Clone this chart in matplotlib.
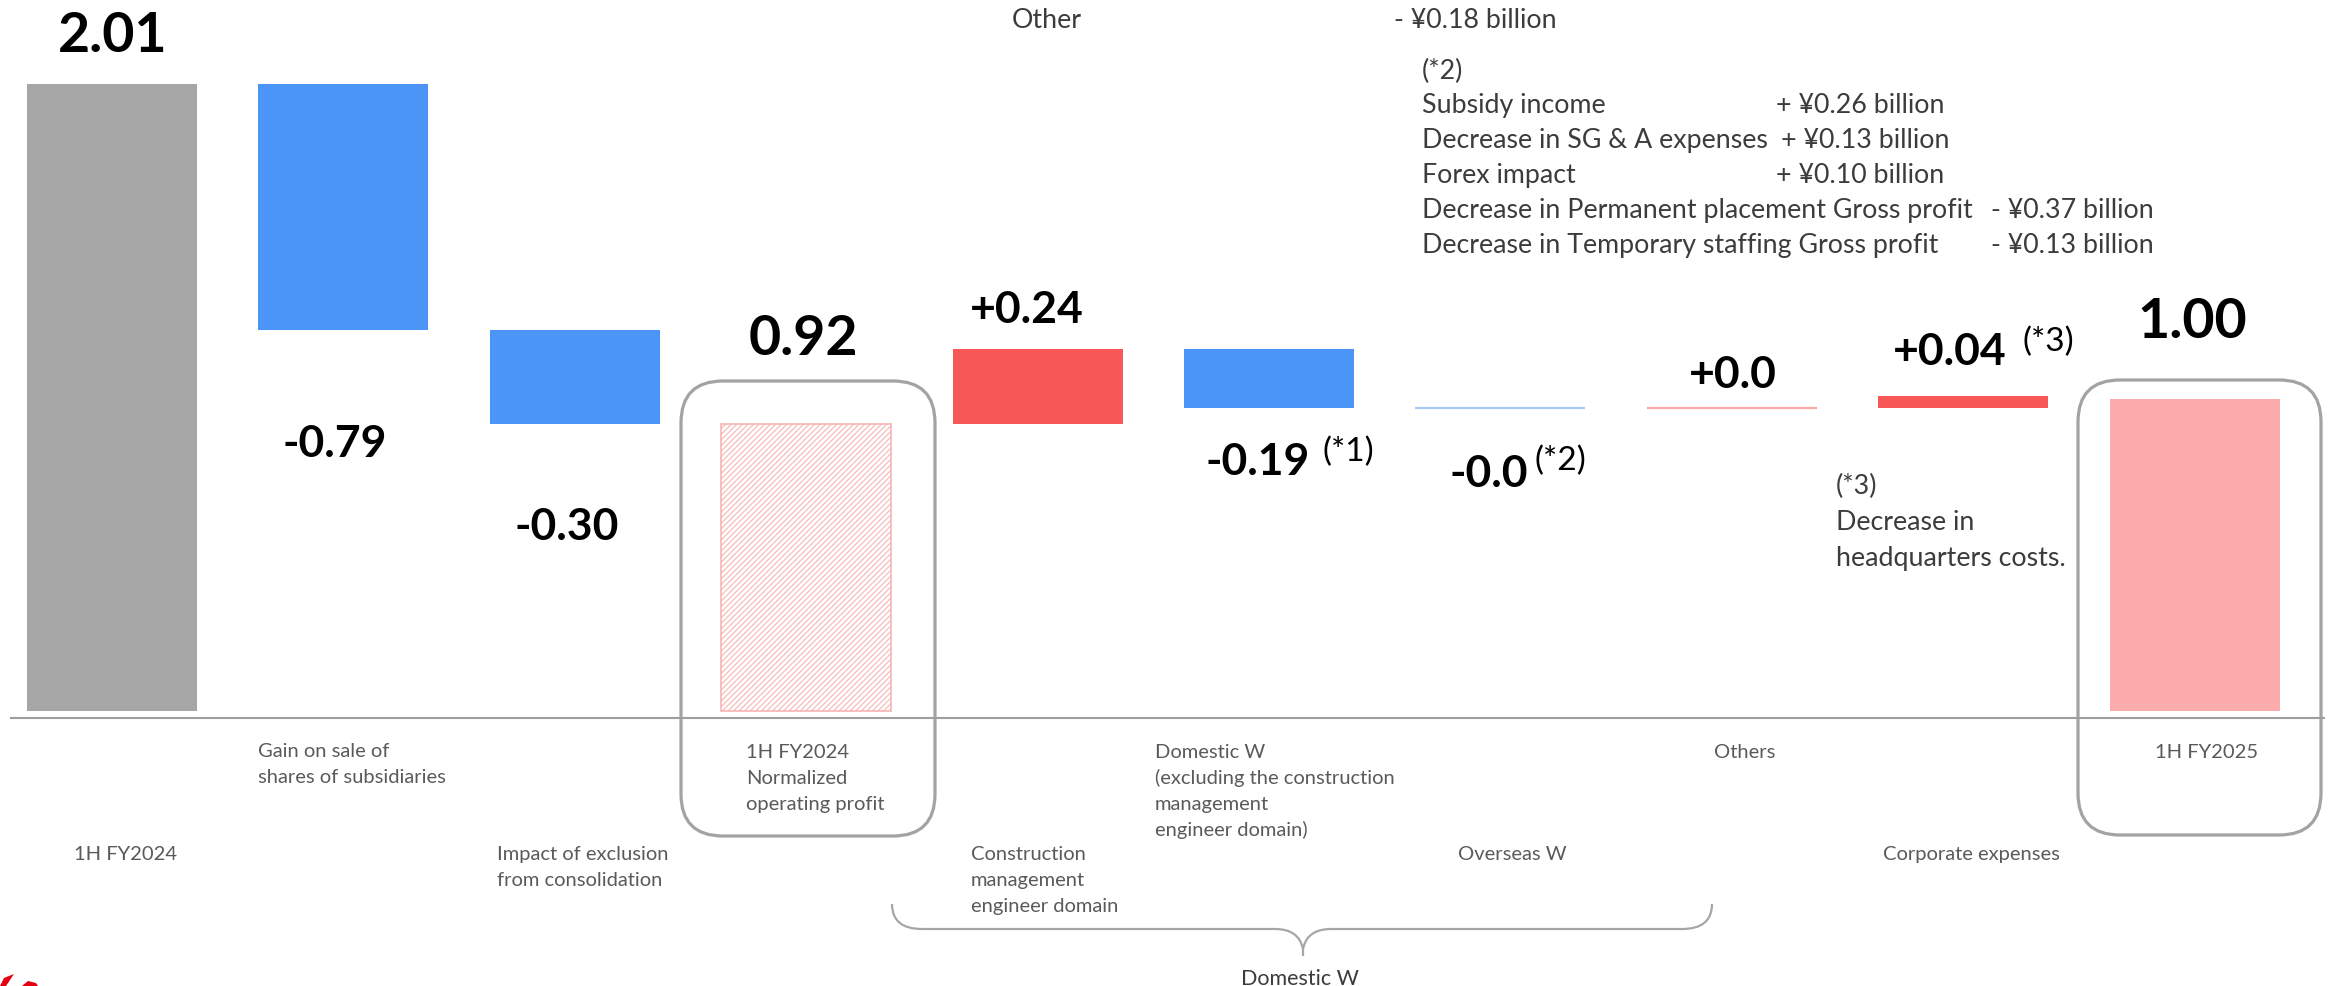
import matplotlib
matplotlib.use("Agg")
import matplotlib.pyplot as plt
from matplotlib.patches import FancyBboxPatch, PathPatch, Polygon
from matplotlib.path import Path

plt.rcParams["font.family"] = ["Lato", "DejaVu Sans"]
plt.rcParams["hatch.linewidth"] = 0.8

# ---------------------------------------------------------------- data
categories = [
    "1H FY2024",
    "Gain on sale of\nshares of subsidiaries",
    "Impact of exclusion\nfrom consolidation",
    "1H FY2024\nNormalized\noperating profit",
    "Construction\nmanagement\nengineer domain",
    "Domestic W\n(excluding the construction\nmanagement\nengineer domain)",
    "Overseas W",
    "Others",
    "Corporate expenses",
    "1H FY2025",
]
values = [2.01, -0.79, -0.30, 0.92, 0.24, -0.19, -0.0, 0.0, 0.04, 1.00]
value_labels = ["2.01", "-0.79", "-0.30", "0.92", "+0.24", "-0.19",
                "-0.0", "+0.0", "+0.04", "1.00"]
is_total = [True, False, False, True, False, False, False, False, False, True]
footnote_marks = ["", "", "", "", "", "(*1)", "(*2)", "", "(*3)", ""]

other_item = ("Other", "- ¥0.18 billion")
overseas_title = "(*2)"
overseas_items = [
    ("Subsidy income", "+ ¥0.26 billion"),
    ("Decrease in SG & A expenses", "+ ¥0.13 billion"),
    ("Forex impact", "+ ¥0.10 billion"),
    ("Decrease in Permanent placement Gross profit", "- ¥0.37 billion"),
    ("Decrease in Temporary staffing Gross profit", "- ¥0.13 billion"),
]
corporate_note = ["(*3)", "Decrease in", "headquarters costs."]
group_label = "Domestic W"

# ---------------------------------------------------------------- layout
W, H, DPI = 2333, 987, 100
X0_PX, STEP_PX = 112, 231.4       # first category centre, category pitch
ZERO_PX, UNIT_PX = 712, 312.0     # pixel row of value 0, pixels per 1.0
BAR_W = 0.735

GRAY, BLUE, RED = "#A6A6A6", "#4A95F6", "#F75757"
BLUE_LIGHT, RED_LIGHT, PINK = "#A8CAF7", "#F8A9A9", "#FDACAE"
HATCH_PINK = "#F7B4B4"
LABEL_GRAY, NOTE_GRAY = "#5A5A5A", "#3C3C3C"

# running totals of the waterfall
bottoms, heights = [], []
running = 0.0
for v, tot in zip(values, is_total):
    if tot:
        bottoms.append(0.0)
        running = v
    else:
        bottoms.append(running)
        running += v
    heights.append(v)

fig = plt.figure(figsize=(W / DPI, H / DPI), dpi=DPI)
fig.patch.set_facecolor("white")

ax = fig.add_axes([0, 0, 1, 1])
ax.set_xlim(-X0_PX / STEP_PX, (W - X0_PX) / STEP_PX)
ax.set_ylim(-(H - ZERO_PX) / UNIT_PX, ZERO_PX / UNIT_PX)
ax.axis("off")

x = list(range(len(values)))
for i in x:
    v, b = heights[i], bottoms[i]
    if i == 0:
        ax.bar(i, v, bottom=b, width=BAR_W, color=GRAY, linewidth=0)
    elif i == 3:
        ax.bar(i, v, bottom=b, width=BAR_W, facecolor="white",
               edgecolor=HATCH_PINK, hatch="//////", linewidth=1.2)
    elif i == len(values) - 1:
        ax.bar(i, v, bottom=b, width=BAR_W, color=PINK, linewidth=0)
    elif v == 0:
        c = BLUE_LIGHT if value_labels[i].startswith("-") else RED_LIGHT
        ax.bar(i, v, bottom=b, width=BAR_W, facecolor=c, edgecolor=c,
               linewidth=1.6)
    else:
        ax.bar(i, v, bottom=b, width=BAR_W, color=RED if v > 0 else BLUE,
               linewidth=0)

# overlay in pixel coordinates for annotations and decorations
ov = fig.add_axes([0, 0, 1, 1], zorder=5)
ov.set_xlim(0, W)
ov.set_ylim(H, 0)
ov.axis("off")

# baseline
ov.plot([10, 2325], [719, 719], color="#9E9E9E", lw=1.5, solid_capstyle="butt")

# rounded frames around the two profit columns
for (l, t, r, b) in [(681, 382, 935, 837), (2078, 381, 2321, 836)]:
    ov.add_patch(FancyBboxPatch((l, t), r - l, b - t,
                                boxstyle="round,pad=0,rounding_size=42",
                                facecolor="none", edgecolor="#A3A3A3", lw=2.3))

# value labels: (centre x, baseline y, font size)
label_pos = [(113, 52, 40), (335, 457, 32), (567, 540, 32), (803, 355, 40),
             (1027, 323, 32), (1258, 475, 32), (1489, 487, 32),
             (1733, 388, 32), (1950, 365, 32), (2192, 338, 40)]
mark_pos = {5: (1322, 461), 6: (1534, 470), 8: (2022, 351)}
for i, (cx, by, fs) in enumerate(label_pos):
    ov.text(cx, by, value_labels[i], ha="center", va="baseline",
            fontsize=fs, fontweight="bold", color="black")
    if footnote_marks[i]:
        mx, my = mark_pos[i]
        ov.text(mx, my, footnote_marks[i], ha="left", va="baseline",
                fontsize=24, color="black")

# category labels: (anchor x, first baseline y, alignment)
cat_pos = [(126, 860, "center"), (258, 757, "left"), (497, 860, "left"),
           (746, 758, "left"), (971, 860, "left"), (1155, 758, "left"),
           (1458, 860, "left"), (1745, 758, "center"), (1883, 860, "left"),
           (2207, 758, "center")]
for name, (ax_x, by, ha) in zip(categories, cat_pos):
    for k, line in enumerate(name.split("\n")):
        ov.text(ax_x, by + 26 * k, line, ha=ha, va="baseline",
                fontsize=14.5, color=LABEL_GRAY)

# brace grouping the Domestic W items
verts = [(892, 905), (892, 930), (922, 930),
         (1275, 930),
         (1299, 930), (1303, 950),
         (1303, 957),
         (1303, 950), (1307, 930),
         (1331, 930),
         (1682, 930),
         (1712, 930), (1712, 905)]
codes = [Path.MOVETO, Path.CURVE3, Path.CURVE3,
         Path.LINETO,
         Path.CURVE3, Path.CURVE3,
         Path.LINETO,
         Path.MOVETO, Path.CURVE3,
         Path.CURVE3,
         Path.LINETO,
         Path.CURVE3, Path.CURVE3]
ov.add_patch(PathPatch(Path(verts, codes), facecolor="none",
                       edgecolor="#A6A6A6", lw=1.6))
ov.text(1300, 985, group_label, ha="center", va="baseline",
        fontsize=15.5, color=NOTE_GRAY)

# breakdown notes
NOTE_FS = 19.3
ov.text(1012, 28, other_item[0], fontsize=NOTE_FS, color=NOTE_GRAY, va="baseline")
ov.text(1394, 28, other_item[1], fontsize=NOTE_FS, color=NOTE_GRAY, va="baseline")
ov.text(1422, 79, overseas_title, fontsize=NOTE_FS, color=NOTE_GRAY, va="baseline")
value_x = [1776, 1781, 1776, 1991, 1991]
for k, ((name, amt), vx) in enumerate(zip(overseas_items, value_x)):
    y = 113 + 35 * k
    ov.text(1422, y, name, fontsize=NOTE_FS, color=NOTE_GRAY, va="baseline")
    ov.text(vx, y, amt, fontsize=NOTE_FS, color=NOTE_GRAY, va="baseline")
for k, line in enumerate(corporate_note):
    ov.text(1836, 494 + 36 * k, line, fontsize=NOTE_FS, color=NOTE_GRAY,
            va="baseline")

# corner of the company mark, clipped by the page edge
ov.add_patch(Polygon([(0, 987), (4, 979), (14, 975), (10, 981), (6, 987)],
                     closed=True, facecolor="#E60012", edgecolor="none"))
ov.add_patch(Polygon([(22, 987), (28, 982), (36, 984), (38, 987)],
                     closed=True, facecolor="#E60012", edgecolor="none"))

fig.savefig("out.png", dpi=DPI, facecolor="white")
